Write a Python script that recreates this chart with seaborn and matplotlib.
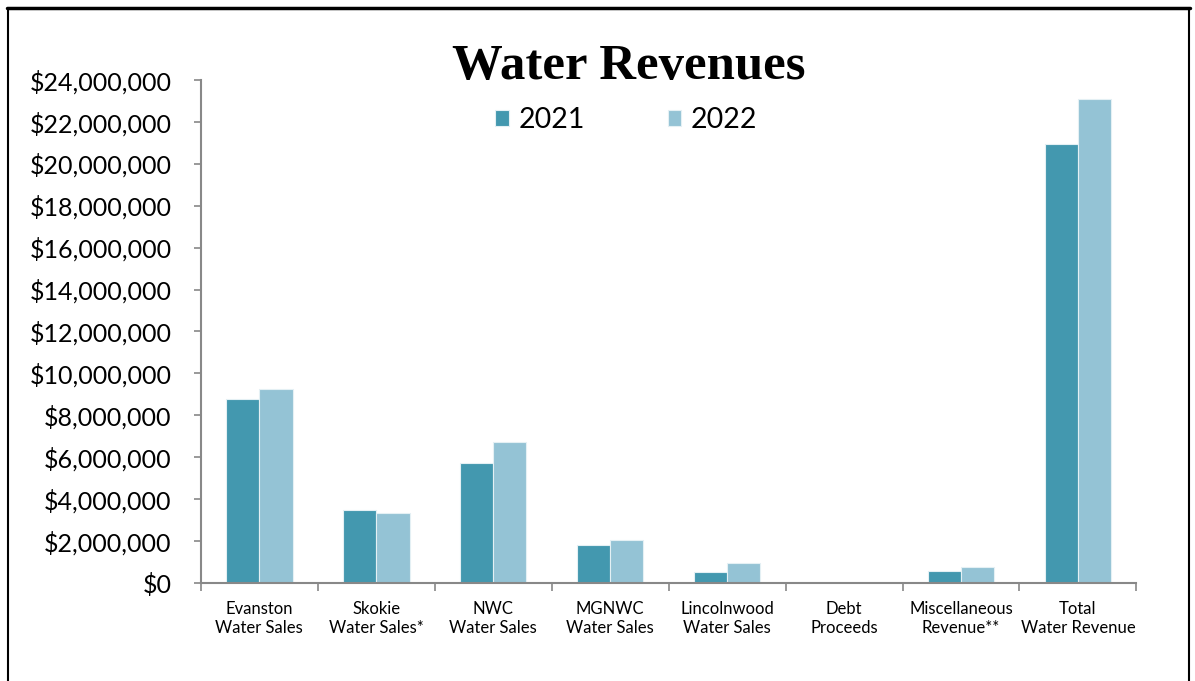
import matplotlib
matplotlib.use("Agg")
import matplotlib.pyplot as plt
import seaborn as sns
import pandas as pd
from matplotlib.ticker import FuncFormatter, FixedLocator
from matplotlib.lines import Line2D

categories = ["Evanston\nWater Sales", "Skokie\nWater Sales*", "NWC\nWater Sales",
              "MGNWC\nWater Sales", "Lincolnwood\nWater Sales", "Debt\nProceeds",
              "Miscellaneous\nRevenue**", "Total\nWater Revenue"]
rev_2021 = [8780000, 3480000, 5730000, 1810000, 520000, 0, 570000, 20940000]
rev_2022 = [9260000, 3340000, 6730000, 2050000, 950000, 0, 760000, 23090000]
years = ["2021", "2022"]
colors = ["#4398AF", "#94C3D5"]

df = pd.DataFrame({
    "Category": categories * 2,
    "Year": [years[0]] * len(categories) + [years[1]] * len(categories),
    "Revenue": rev_2021 + rev_2022,
})

sns.set_theme(style="white")
plt.rcParams["font.family"] = ["Lato", "DejaVu Sans"]
plt.rcParams["text.color"] = "black"
plt.rcParams["axes.labelcolor"] = "black"

fig = plt.figure(figsize=(11.95, 6.81), dpi=100)
ax = fig.add_axes([0.168, 0.144, 0.783, 0.7385])

sns.barplot(data=df, x="Category", y="Revenue", hue="Year", palette=colors,
            width=0.57, edgecolor="#E4F0F4", linewidth=0.8, ax=ax, errorbar=None,
            saturation=1)

ax.set_ylim(0, 24000000)
ax.set_xlim(-0.5, len(categories) - 0.5)
ax.set_yticks(range(0, 24000001, 2000000))
ax.yaxis.set_major_formatter(FuncFormatter(lambda v, p: "${:,.0f}".format(v)))
ax.tick_params(axis="y", labelsize=18, length=5, width=1.2, color="#888888",
               direction="out", left=True, pad=16, labelcolor="#000000")
ax.tick_params(axis="x", which="major", length=0, labelsize=12, pad=13, labelcolor="#000000")
ax.xaxis.set_minor_locator(FixedLocator([i - 0.5 for i in range(len(categories) + 1)]))
ax.tick_params(axis="x", which="minor", length=6, width=1.2, color="#888888",
               direction="out", bottom=True)
ax.set_xlabel("")
ax.set_ylabel("")
for s in ["top", "right"]:
    ax.spines[s].set_visible(False)
for s in ["left", "bottom"]:
    ax.spines[s].set_color("#888888")
    ax.spines[s].set_linewidth(1.5)

leg = ax.legend(loc="upper center", bbox_to_anchor=(0.455, 0.997), ncol=2, frameon=False,
                fontsize=20.5, handlelength=0.46, handleheight=0.46, columnspacing=2.9,
                handletextpad=0.36)

fig.text(0.526, 0.902, "Water Revenues", ha="center", va="center", color="black",
         fontsize=36.5, fontweight="bold", family=["Liberation Serif", "DejaVu Serif"])

# outer frame
fig.add_artist(Line2D([0.006, 0.996], [0.988, 0.988], transform=fig.transFigure,
                      color="black", linewidth=2.5))
fig.add_artist(Line2D([0.007, 0.007], [0.0, 0.988], transform=fig.transFigure,
                      color="black", linewidth=1.5))
fig.add_artist(Line2D([0.995, 0.995], [0.0, 0.988], transform=fig.transFigure,
                      color="black", linewidth=1.5))

fig.savefig("out.png", dpi=100)
